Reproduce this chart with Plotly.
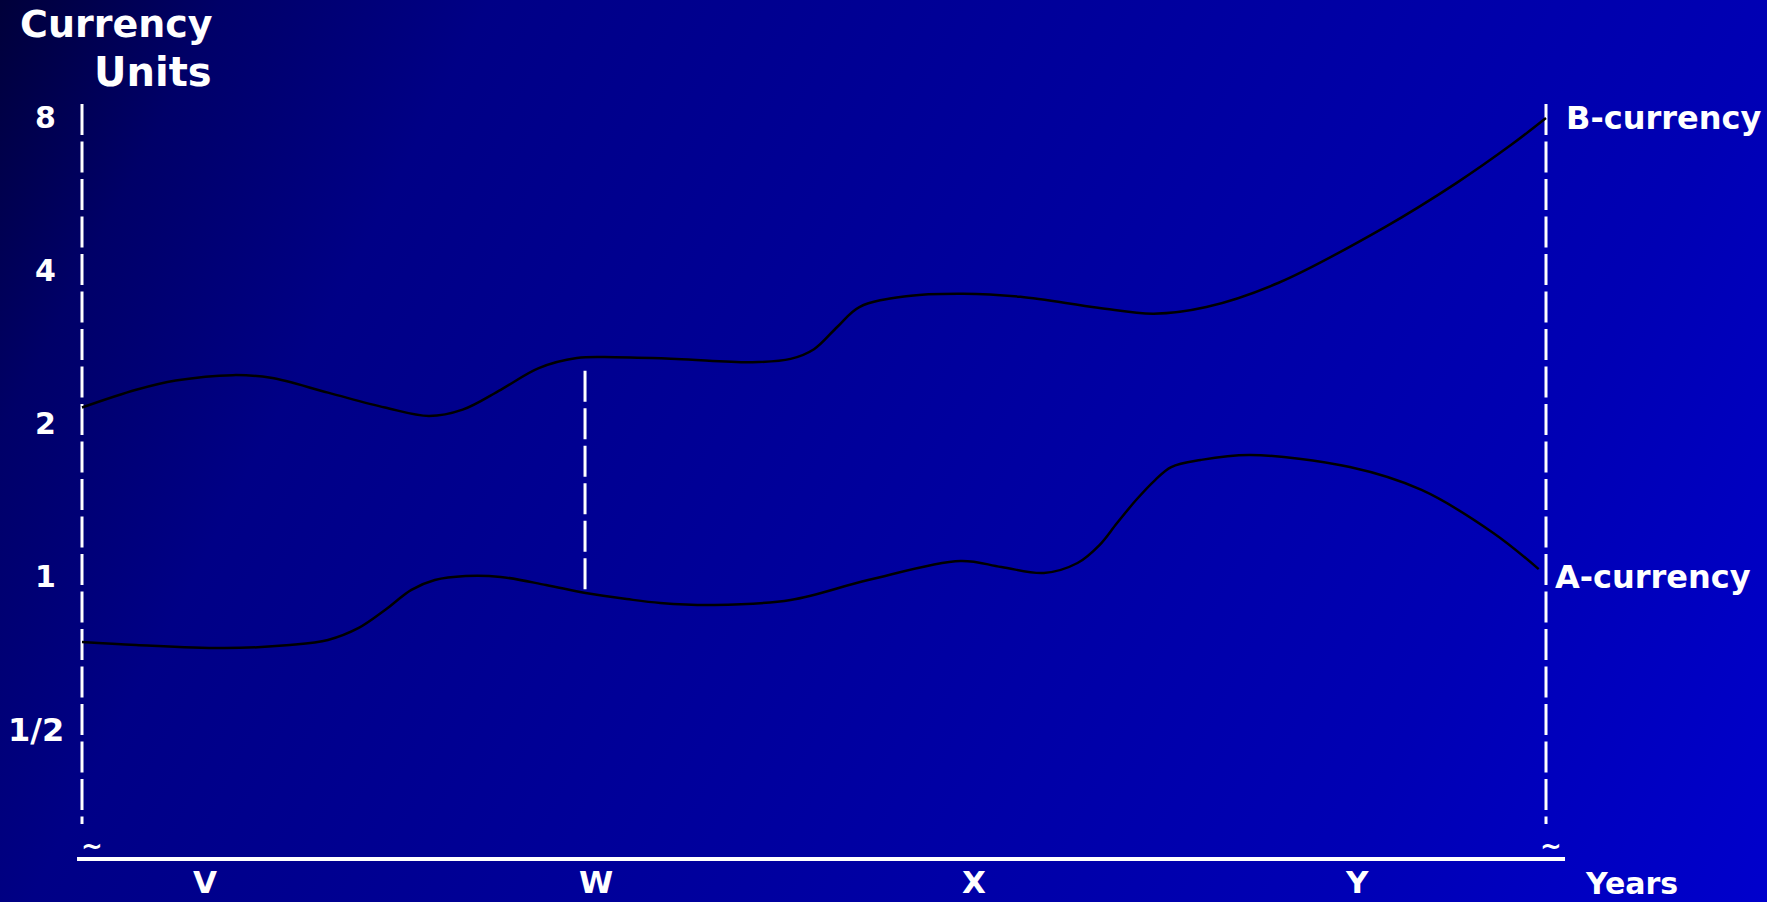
import base64
import numpy as np
import plotly.graph_objects as go

# ---------------- data ----------------
# x in "years" units: 0 = left dashed line, 10 = right dashed line
b_x = [0, 0.37, 0.64, 1.03, 1.29, 1.68, 2.07, 2.37, 2.60, 2.86, 3.12, 3.38, 3.64, 4.06, 4.58,
       4.84, 5.00, 5.16, 5.31, 5.63, 6.02, 6.41, 6.94, 7.32, 7.68, 8.17, 8.90, 9.39, 9.76, 10.0]
b_v = [2.15, 2.33, 2.43, 2.49, 2.46, 2.30, 2.15, 2.07, 2.13, 2.33, 2.57, 2.69, 2.70, 2.68, 2.64,
       2.68, 2.80, 3.10, 3.39, 3.56, 3.60, 3.55, 3.38, 3.29, 3.39, 3.78, 4.87, 5.95, 7.06, 7.98]

a_x = [0, 0.37, 0.97, 1.42, 1.68, 1.89, 2.07, 2.25, 2.41, 2.62, 2.86, 3.17, 3.44, 3.72, 3.95,
       4.32, 4.84, 5.37, 6.00, 6.28, 6.57, 6.80, 6.95, 7.07, 7.20, 7.33, 7.44, 7.64, 7.98, 8.66,
       9.15, 9.64, 9.95]
a_v = [0.743, 0.733, 0.723, 0.733, 0.750, 0.792, 0.859, 0.941, 0.984, 1.002, 0.998, 0.962, 0.928,
       0.903, 0.887, 0.879, 0.899, 0.984, 1.073, 1.044, 1.016, 1.063, 1.153, 1.274, 1.414, 1.548,
       1.642, 1.695, 1.734, 1.642, 1.480, 1.218, 1.034]

y_tick_vals = [8, 4, 2, 1, 0.5]
y_tick_text = ["8", "4", "2", "1", "1/2"]

period_labels = ["V", "W", "X", "Y"]
period_pos = [0.84, 3.51, 6.09, 8.71]

series_names = ["B-currency", "A-currency"]

# dashed guide lines: (x, top value, bottom value)
guides = [(0.0, 8.5, 0.326), (3.436, 2.54, 0.924), (10.0, 8.5, 0.326)]
axis_level = 0.278

# ---------------- figure ----------------
W, H = 1767, 902
FONT = "DejaVu Sans"

svg = f'''<svg xmlns="http://www.w3.org/2000/svg" width="{W}" height="{H}" viewBox="0 0 {W} {H}" preserveAspectRatio="none">
<defs><linearGradient id="g" gradientUnits="userSpaceOnUse" x1="0" y1="0" x2="{W}" y2="{H}">
<stop offset="0" stop-color="#00003a"/>
<stop offset="0.1" stop-color="#000068"/>
<stop offset="0.22" stop-color="#000086"/>
<stop offset="0.5" stop-color="#00009c"/>
<stop offset="0.8" stop-color="#0000b4"/>
<stop offset="1" stop-color="#0000cc"/>
</linearGradient></defs>
<rect x="0" y="0" width="{W}" height="{H}" fill="url(#g)"/></svg>'''
svg_uri = "data:image/svg+xml;base64," + base64.b64encode(svg.encode()).decode()

fig = go.Figure()

for gx, gtop, gbot in guides:
    fig.add_trace(go.Scatter(x=[gx, gx], y=[gtop, gbot], mode="lines",
                             line=dict(color="white", width=3, dash="31px,6.5px"),
                             hoverinfo="skip"))

fig.add_trace(go.Scatter(x=[-0.034, 10.13], y=[axis_level, axis_level], mode="lines",
                         line=dict(color="white", width=4), hoverinfo="skip"))

fig.add_trace(go.Scatter(x=b_x, y=b_v, mode="lines", name=series_names[0],
                         line=dict(color="black", width=2.5, shape="spline", smoothing=1.0)))
fig.add_trace(go.Scatter(x=a_x, y=a_v, mode="lines", name=series_names[1],
                         line=dict(color="black", width=2.5, shape="spline", smoothing=1.0)))

px0, pxu = 82.0, 146.4          # pixel of x=0 and pixels per unit
x_range = [-px0 / pxu, (W - px0) / pxu]
y1_px, py_oct = 576.5, 153.0     # pixel of value 1 and pixels per doubling
y_range = [np.log10(2 ** ((y1_px - H) / py_oct)), np.log10(2 ** (y1_px / py_oct))]

ann = []
def txt(text, x, y, size, xanchor="center", xref="paper", yref="paper", yanchor="middle"):
    ann.append(dict(text=text, x=x, y=y, xref=xref, yref=yref, xanchor=xanchor,
                    yanchor=yanchor, showarrow=False,
                    font=dict(family=FONT, size=size, color="white", weight="bold")))

# axis titles
txt("Currency", 215 / W, 1.0, 38, xanchor="right", yanchor="top")
txt("Units", 214 / W, 1 - 72.5 / H, 40, xanchor="right")

# y tick labels
for v, t in zip(y_tick_vals, y_tick_text):
    cx = 36 if "/" in t else 45
    size = 32 if "/" in t else 30
    txt(t, cx / W, np.log10(v), size, yref="y")

# period labels on x axis
for lab, p in zip(period_labels, period_pos):
    txt(lab, p, 1 - 882 / H, 31, xref="x")
txt("Years", 1631 / W, 1 - 883 / H, 30)

# series end labels
txt(series_names[0], 1564 / W, np.log10(b_v[-1]), 32, xanchor="left", yref="y")
txt(series_names[1], 1553 / W, np.log10(1.0), 32, xanchor="left", yref="y")

# break marks
txt("~", 91.5 / W, 1 - 846 / H, 26)
txt("~", 1551 / W, 1 - 846 / H, 26)

fig.update_layout(
    width=W, height=H, autosize=False,
    margin=dict(l=0, r=0, t=0, b=0, pad=0),
    paper_bgcolor="#00009c", plot_bgcolor="rgba(0,0,0,0)",
    showlegend=False,
    xaxis=dict(visible=False, range=x_range, fixedrange=True),
    yaxis=dict(visible=False, type="log", range=y_range, fixedrange=True),
    images=[dict(source=svg_uri, xref="paper", yref="paper", x=0, y=1, sizex=1, sizey=1,
                 xanchor="left", yanchor="top", sizing="stretch", layer="below")],
    annotations=ann,
)

fig.write_html("out.html", config={"displayModeBar": False})
